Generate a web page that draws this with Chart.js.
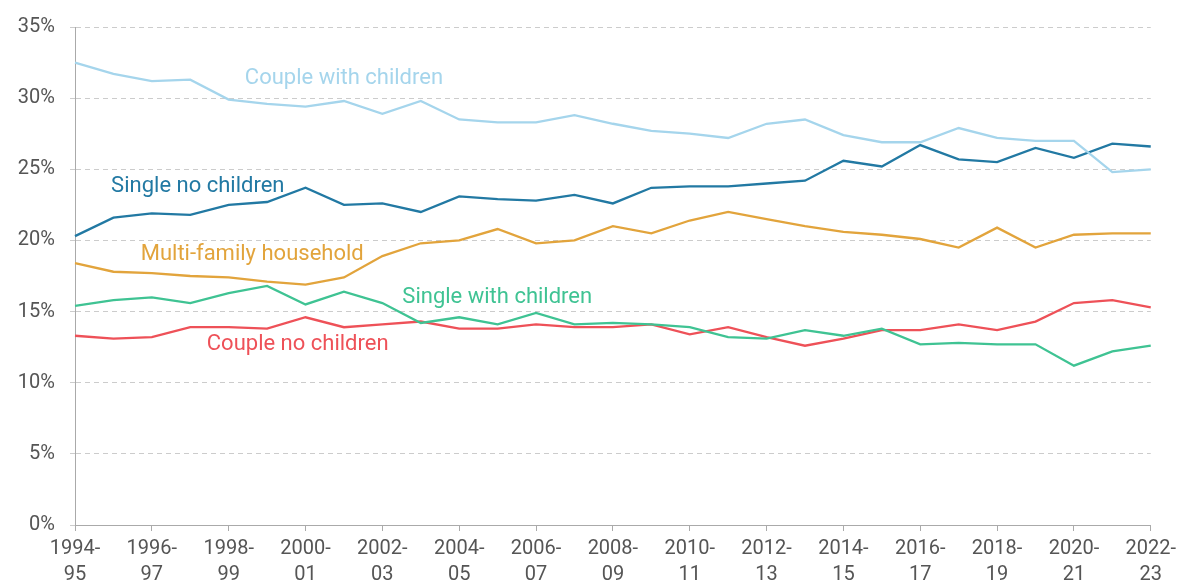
<!DOCTYPE html>
<html>
<head>
<meta charset="utf-8">
<script src="https://cdn.jsdelivr.net/npm/chart.js@4"></script>
<style>
    html, body { margin: 0; padding: 0; background: #fff; }
    #wrap { width: 1181px; height: 588px; }
</style>
</head>
<body>
<div id="wrap"><canvas id="householdChart" width="1181" height="588"></canvas></div>
<script>
const years = ["1994-95", "1995-96", "1996-97", "1997-98", "1998-99", "1999-00", "2000-01", "2001-02",
    "2002-03", "2003-04", "2004-05", "2005-06", "2006-07", "2007-08", "2008-09", "2009-10", "2010-11",
    "2011-12", "2012-13", "2013-14", "2014-15", "2015-16", "2016-17", "2017-18", "2018-19", "2019-20",
    "2020-21", "2021-22", "2022-23"];

const coupleWithChildren = [32.5, 31.7, 31.2, 31.3, 29.9, 29.6, 29.4, 29.8, 28.9, 29.8, 28.5, 28.3, 28.3, 28.8,
    28.2, 27.7, 27.5, 27.2, 28.2, 28.5, 27.4, 26.9, 26.9, 27.9, 27.2, 27.0, 27.0, 24.8, 25.0];
const singleNoChildren = [20.3, 21.6, 21.9, 21.8, 22.5, 22.7, 23.7, 22.5, 22.6, 22.0, 23.1, 22.9, 22.8, 23.2,
    22.6, 23.7, 23.8, 23.8, 24.0, 24.2, 25.6, 25.2, 26.7, 25.7, 25.5, 26.5, 25.8, 26.8, 26.6];
const multiFamily = [18.4, 17.8, 17.7, 17.5, 17.4, 17.1, 16.9, 17.4, 18.9, 19.8, 20.0, 20.8, 19.8, 20.0,
    21.0, 20.5, 21.4, 22.0, 21.5, 21.0, 20.6, 20.4, 20.1, 19.5, 20.9, 19.5, 20.4, 20.5, 20.5];
const singleWithChildren = [15.4, 15.8, 16.0, 15.6, 16.3, 16.8, 15.5, 16.4, 15.6, 14.2, 14.6, 14.1, 14.9, 14.1,
    14.2, 14.1, 13.9, 13.2, 13.1, 13.7, 13.3, 13.8, 12.7, 12.8, 12.7, 12.7, 11.2, 12.2, 12.6];
const coupleNoChildren = [13.3, 13.1, 13.2, 13.9, 13.9, 13.8, 14.6, 13.9, 14.1, 14.3, 13.8, 13.8, 14.1, 13.9,
    13.9, 14.1, 13.4, 13.9, 13.2, 12.6, 13.1, 13.7, 13.7, 14.1, 13.7, 14.3, 15.6, 15.8, 15.3];

const seriesNames = ["Couple with children", "Single no children", "Multi-family household",
    "Single with children", "Couple no children"];
const seriesColors = ["#a5d5ec", "#2279a3", "#e2a43c", "#3fc393", "#ee5158"];
// where each name sits: [category index, value]
const labelSpots = [[4.42, 31.4], [0.94, 23.8], [1.71, 19.0], [8.52, 16.0], [3.43, 12.7]];

const seriesData = [coupleWithChildren, singleNoChildren, multiFamily, singleWithChildren, coupleNoChildren];

const seriesLabels = {
    id: "seriesLabels",
    afterDatasetsDraw(chart) {
        const ctx = chart.ctx;
        const xs = chart.scales.x, ys = chart.scales.y;
        ctx.save();
        ctx.font = "22px Roboto";
        ctx.textAlign = "left";
        ctx.textBaseline = "middle";
        seriesNames.forEach((name, i) => {
            const spot = labelSpots[i];
            const x0 = xs.getPixelForValue(Math.floor(spot[0]));
            const x1 = xs.getPixelForValue(Math.floor(spot[0]) + 1);
            const x = x0 + (x1 - x0) * (spot[0] - Math.floor(spot[0]));
            ctx.fillStyle = seriesColors[i];
            ctx.fillText(name, x, ys.getPixelForValue(spot[1]));
        });
        ctx.restore();
    }
};

const ctx = document.getElementById("householdChart").getContext("2d");

new Chart(ctx, {
    type: "line",
    data: {
        labels: years,
        datasets: seriesNames.map((name, i) => ({
            label: name,
            data: seriesData[i],
            borderColor: seriesColors[i],
            borderWidth: 2.3,
            pointRadius: 0,
            tension: 0,
            fill: false
        }))
    },
    options: {
        responsive: false,
        animation: false,
        layout: { padding: { top: 22, right: 28, left: 0, bottom: 0 } },
        plugins: {
            legend: { display: false },
            tooltip: { enabled: false }
        },
        scales: {
            x: {
                offset: false,
                afterFit(scale) { scale.height = 63; },
                border: { color: "#aaaaaa", width: 1 },
                grid: {
                    drawOnChartArea: false,
                    drawTicks: true,
                    tickLength: 6,
                    color: "#aaaaaa"
                },
                ticks: {
                    autoSkip: false,
                    maxRotation: 0,
                    padding: 5,
                    color: "#555555",
                    font: { family: "Roboto", size: 20, lineHeight: 1.3 },
                    callback(value, index) {
                        if (index % 2 !== 0) return null;
                        const parts = years[index].split("-");
                        return [parts[0] + "-", parts[1]];
                    }
                }
            },
            y: {
                min: 0,
                max: 35,
                afterFit(scale) { scale.width = 75; },
                border: { color: "#aaaaaa", width: 1, dash: [5, 4] },
                grid: {
                    color: "#cccccc",
                    lineWidth: 1,
                    tickLength: 5,
                    tickBorderDash: [5, 4],
                    tickColor: "#cccccc"
                },
                ticks: {
                    stepSize: 5,
                    padding: 15,
                    color: "#555555",
                    font: { family: "Roboto", size: 20 },
                    callback: (v) => v + "%"
                }
            }
        }
    },
    plugins: [seriesLabels]
});
</script>
</body>
</html>
